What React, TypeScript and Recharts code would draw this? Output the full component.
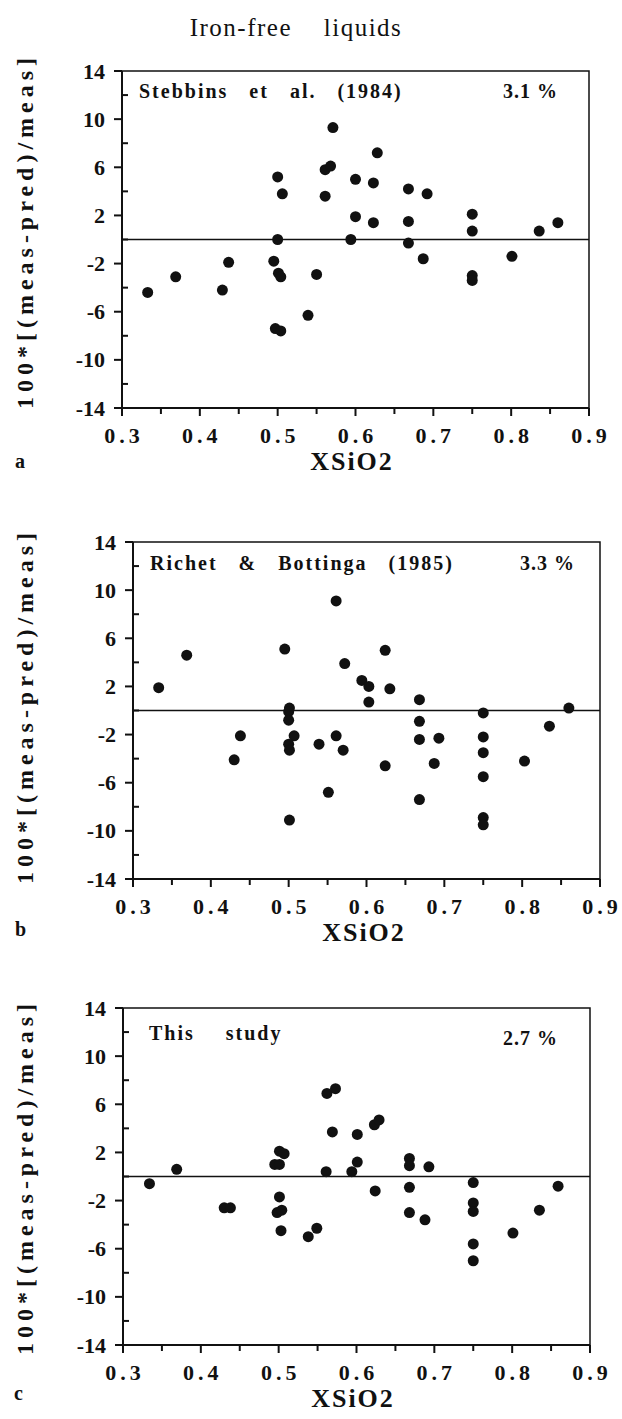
import React from "react";
import { ScatterChart, Scatter, XAxis, YAxis, ReferenceLine, ReferenceArea } from "recharts";

const INK = "#111";
const FONT = "'Liberation Serif', 'DejaVu Serif', serif";
const TS = 8;
const TM = 4;

const xTicks = [0.3, 0.35, 0.4, 0.45, 0.5, 0.55, 0.6, 0.65, 0.7, 0.75, 0.8, 0.85, 0.9];
const yTicks = [-14, -12, -10, -8, -6, -4, -2, 0, 2, 4, 6, 8, 10, 12, 14];

// (a) Stebbins et al. (1984)
const stebbinsX = [0.333, 0.369, 0.429, 0.437, 0.5, 0.506, 0.5, 0.495, 0.501, 0.504, 0.497, 0.504, 0.539, 0.55, 0.561, 0.561, 0.568, 0.571, 0.594, 0.6, 0.6, 0.623, 0.623, 0.628, 0.668, 0.668, 0.668, 0.692, 0.687, 0.75, 0.75, 0.75, 0.75, 0.801, 0.836, 0.86];
const stebbinsY = [-4.4, -3.1, -4.2, -1.9, 5.2, 3.8, 0.0, -1.8, -2.8, -3.1, -7.4, -7.6, -6.3, -2.9, 3.6, 5.8, 6.1, 9.3, 0.0, 5.0, 1.9, 4.7, 1.4, 7.2, 4.2, 1.5, -0.3, 3.8, -1.6, 2.1, 0.7, -3.0, -3.4, -1.4, 0.7, 1.4];

// (b) Richet & Bottinga (1985)
const richetX = [0.333, 0.369, 0.43, 0.438, 0.495, 0.501, 0.5, 0.5, 0.507, 0.5, 0.501, 0.501, 0.539, 0.551, 0.561, 0.561, 0.57, 0.572, 0.594, 0.603, 0.603, 0.624, 0.63, 0.624, 0.668, 0.668, 0.668, 0.668, 0.693, 0.687, 0.75, 0.75, 0.75, 0.75, 0.75, 0.75, 0.803, 0.835, 0.86];
const richetY = [1.9, 4.6, -4.1, -2.1, 5.1, 0.2, -0.1, -0.8, -2.1, -2.8, -3.3, -9.1, -2.8, -6.8, 9.1, -2.1, -3.3, 3.9, 2.5, 2.0, 0.7, 5.0, 1.8, -4.6, 0.9, -0.9, -2.4, -7.4, -2.3, -4.4, -0.2, -2.2, -3.5, -5.5, -8.9, -9.5, -4.2, -1.3, 0.2];

// (c) This study
const studyX = [0.334, 0.369, 0.43, 0.438, 0.495, 0.501, 0.501, 0.507, 0.501, 0.498, 0.504, 0.503, 0.538, 0.549, 0.561, 0.562, 0.573, 0.569, 0.594, 0.601, 0.601, 0.623, 0.629, 0.624, 0.668, 0.668, 0.668, 0.668, 0.693, 0.688, 0.75, 0.75, 0.75, 0.75, 0.75, 0.801, 0.835, 0.859];
const studyY = [-0.6, 0.6, -2.6, -2.6, 1.0, 1.0, 2.1, 1.9, -1.7, -3.0, -2.8, -4.5, -5.0, -4.3, 0.4, 6.9, 7.3, 3.7, 0.4, 3.5, 1.2, 4.3, 4.7, -1.2, 1.5, 0.9, -0.9, -3.0, 0.8, -3.6, -0.5, -2.2, -2.9, -5.6, -7.0, -4.7, -2.8, -0.8];

const toPoints = (xs: number[], ys: number[]) => xs.map((x, i) => ({ x, y: ys[i] }));

const XTick = (props: any) => {
  const { x, y, payload } = props;
  const axisY = y - TS - TM;
  const v = payload.value;
  const major = Math.round(v * 100) % 10 === 0;
  return (
    <g>
      <line x1={x} x2={x} y1={axisY} y2={axisY + (major ? 8 : 6)} stroke={INK} strokeWidth={2} />
      {major && (
        <text x={x + 2} y={axisY + 35} textAnchor="middle" fontFamily={FONT} fontWeight="bold" fontSize={22} letterSpacing={4} fill={INK}>
          {v.toFixed(1)}
        </text>
      )}
    </g>
  );
};

const YTick = (props: any) => {
  const { x, y, payload } = props;
  const axisX = x + TS + TM;
  const v = payload.value;
  const major = Math.abs(v - 2) % 4 === 0;
  return (
    <g>
      <line x1={major ? axisX - 8 : axisX} x2={major ? axisX : axisX + 6} y1={y} y2={y} stroke={INK} strokeWidth={2} />
      {major && (
        <text x={axisX - 17} y={y + 7.5} textAnchor="end" fontFamily={FONT} fontWeight="bold" fontSize={22} fill={INK}>
          {v}
        </text>
      )}
    </g>
  );
};

const Dot = (p: any) => <circle cx={p.cx} cy={p.cy} r={5.5} fill={INK} />;

interface PanelProps {
  top: number;
  plotLeft: number;
  plotTop: number;
  data: Array<{ x: number; y: number }>;
}

const W = 622;
const H = 470;
const PW = 467;
const PH = 337;
const YW = 60;
const XH = 50;

const Panel = ({ top, plotLeft, plotTop, data }: PanelProps) => {
  const mt = plotTop - top;
  const margin = { top: mt, left: plotLeft - YW, right: W - plotLeft - PW, bottom: H - mt - PH - XH };
  return (
    <div style={{ position: "absolute", left: 0, top }}>
      <ScatterChart width={W} height={H} margin={margin}>
        <ReferenceArea x1={0.3} x2={0.9} y1={-14} y2={14} fill="none" fillOpacity={0} stroke={INK} strokeWidth={1.5} />
        <XAxis type="number" dataKey="x" domain={[0.3, 0.9]} ticks={xTicks} interval={0} tick={XTick} tickLine={false} tickSize={TS} tickMargin={TM} height={XH} axisLine={{ stroke: INK, strokeWidth: 2 }} />
        <YAxis type="number" dataKey="y" domain={[-14, 14]} ticks={yTicks} interval={0} tick={YTick} tickLine={false} tickSize={TS} tickMargin={TM} width={YW} axisLine={{ stroke: INK, strokeWidth: 2 }} />
        <ReferenceLine y={0} stroke={INK} strokeWidth={1.5} />
        <Scatter data={data} shape={Dot} isAnimationActive={false} />
      </ScatterChart>
    </div>
  );
};

const txt = (extra: React.CSSProperties): React.CSSProperties => ({
  position: "absolute",
  whiteSpace: "nowrap",
  fontFamily: FONT,
  color: INK,
  lineHeight: 1,
  ...extra,
});

const YLabel = ({ cy }: { cy: number }) => (
  <div style={txt({ left: 25, top: cy, fontSize: 24, fontWeight: "bold", letterSpacing: 5, transform: "translate(-50%, -50%) rotate(-90deg)" })}>
    100*[(meas-pred)/meas]
  </div>
);

const XLabel = ({ cx, cy }: { cx: number; cy: number }) => (
  <div style={txt({ left: cx, top: cy, fontSize: 26, lineHeight: 0.8, fontWeight: "bold", letterSpacing: 2, transform: "translate(-50%, -50%)" })}>XSiO2</div>
);

const Note = ({ left, cy, children, ws = 14, ls = 2 }: { left: number; cy: number; children: React.ReactNode; ws?: number; ls?: number }) => (
  <div style={txt({ left, top: cy - 10, fontSize: 20, fontWeight: "bold", letterSpacing: ls, wordSpacing: ws })}>{children}</div>
);

const App = () => {
  return (
    <div style={{ position: "absolute", left: 0, top: 0, width: 622, height: 1419, background: "#fff", fontFamily: FONT }}>
      <div style={txt({ left: 296, top: 27, fontSize: 25, letterSpacing: 1.5, wordSpacing: 24, transform: "translate(-50%, -50%)" })}>
        Iron-free liquids
      </div>

      <Panel top={0} plotLeft={122} plotTop={71} data={toPoints(stebbinsX, stebbinsY)} />
      <Panel top={470} plotLeft={133} plotTop={542} data={toPoints(richetX, richetY)} />
      <Panel top={940} plotLeft={123} plotTop={1008} data={toPoints(studyX, studyY)} />

      <YLabel cy={231} />
      <YLabel cy={706} />
      <YLabel cy={1177} />

      <XLabel cx={352} cy={462} />
      <XLabel cx={364} cy={933} />
      <XLabel cx={353} cy={1399} />

      <div style={txt({ left: 15, top: 451, fontSize: 20, fontWeight: "bold" })}>a</div>
      <div style={txt({ left: 15, top: 919, fontSize: 20, fontWeight: "bold" })}>b</div>
      <div style={txt({ left: 14, top: 1383, fontSize: 20, fontWeight: "bold" })}>c</div>

      <Note left={139} cy={91}>Stebbins et al. (1984)</Note>
      <Note left={503} cy={91} ws={0} ls={1}>3.1 %</Note>
      <Note left={150} cy={563}>Richet &amp; Bottinga (1985)</Note>
      <Note left={520} cy={563} ws={0} ls={1}>3.3 %</Note>
      <Note left={149} cy={1033} ws={24}>This study</Note>
      <Note left={503} cy={1038} ws={0} ls={1}>2.7 %</Note>
    </div>
  );
};

export default App;
